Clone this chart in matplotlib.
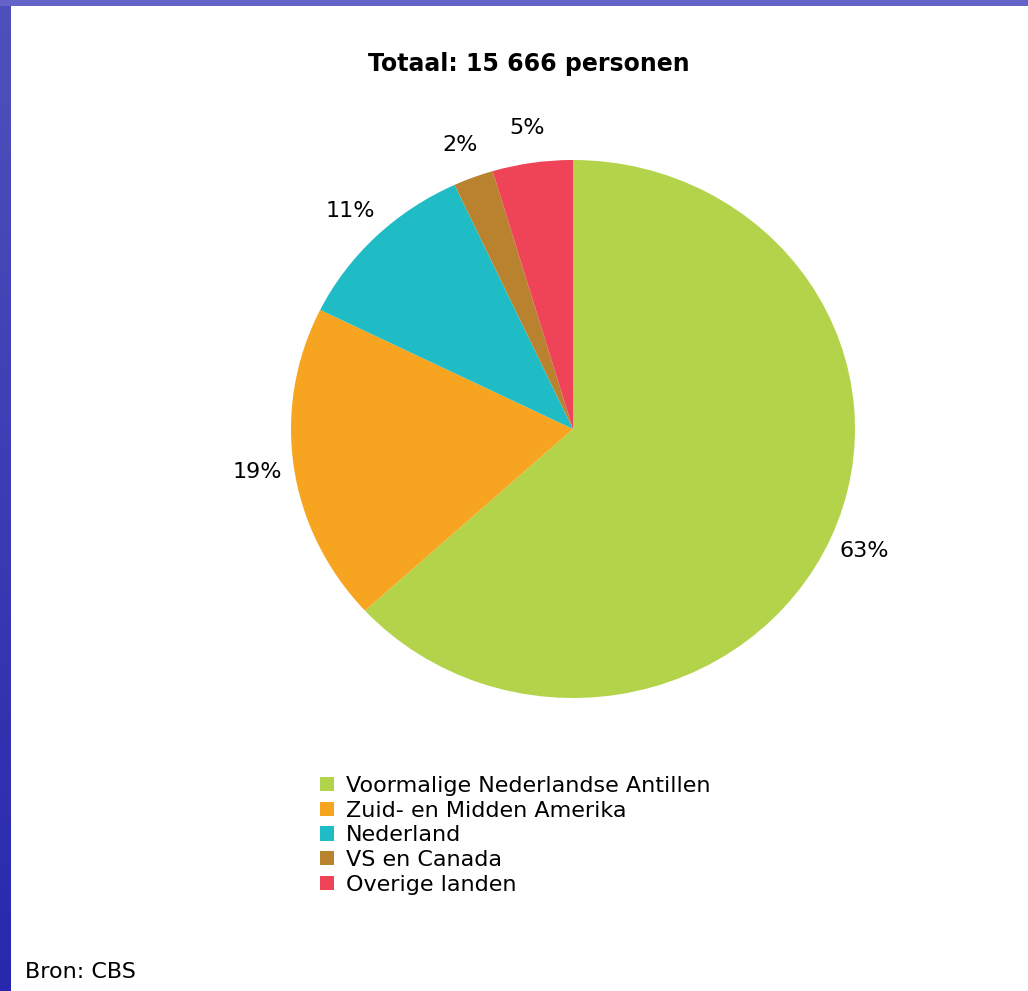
import matplotlib.pyplot as plt
import matplotlib.patches as mpatches
import numpy as np

categories = ['Voormalige Nederlandse Antillen', 'Zuid- en Midden Amerika',
              'Nederland', 'VS en Canada', 'Overige landen']
shares = [63.2, 19.1, 10.8, 2.3, 4.6]
pct_labels = ['63%', '19%', '11%', '2%', '5%']
colors = ['#b3d44a', '#f7a520', '#1fbcc6', '#b8822e', '#ef4358']

title = 'Totaal: 15 666 personen'
source = 'Bron: CBS'

W, H = 1028, 991
fig = plt.figure(figsize=(W / 100, H / 100), dpi=100)
fig.patch.set_facecolor('white')

# blue slide border (left and top)
bl = fig.add_axes([0, 0, 11 / W, 1])
grad = np.linspace(0, 1, 200).reshape(-1, 1)
bl.imshow(grad, aspect='auto', cmap=plt.matplotlib.colors.LinearSegmentedColormap.from_list(
    'b', ['#5050bc', '#2828ae']), extent=[0, 1, 0, 1])
bl.axis('off')
fig.patches.append(mpatches.Rectangle((0, 1 - 6 / H), 1, 6 / H, transform=fig.transFigure,
                                      facecolor='#6464c8', edgecolor='none'))

# pie (slightly wider than tall, as in the original)
cx, cy = 573 / W, 1 - 429 / H
w, h = 564 / W, 538 / H
ax = fig.add_axes([cx - w / 2, cy - h / 2, w, h])
wedges, texts = ax.pie(shares, labels=pct_labels, colors=colors, startangle=90,
                       counterclock=False, labeldistance=1.13,
                       wedgeprops=dict(linewidth=0),
                       textprops=dict(fontsize=16, family='DejaVu Sans'))
for t in texts:
    t.set_ha('center')
    t.set_va('center')
ax.set_aspect('auto')
ax.set_xlim(-1, 1)
ax.set_ylim(-1, 1)

fig.text(529 / W, 1 - 64 / H, title, ha='center', va='center', fontsize=17,
         fontweight='bold', family='DejaVu Sans')

handles = [mpatches.Patch(facecolor=c, edgecolor='none') for c in colors]
fig.legend(handles, categories, loc='upper left', bbox_to_anchor=(320 / W, 1 - 776 / H),
           frameon=False, handlelength=0.62, handleheight=0.62,
           handletextpad=0.55, labelspacing=0.21, borderpad=0, borderaxespad=0,
           prop=dict(family='DejaVu Sans', size=16))

fig.text(25 / W, 1 - 972 / H, source, ha='left', va='center', fontsize=16,
         family='DejaVu Sans')

fig.savefig('out.png', dpi=100)
